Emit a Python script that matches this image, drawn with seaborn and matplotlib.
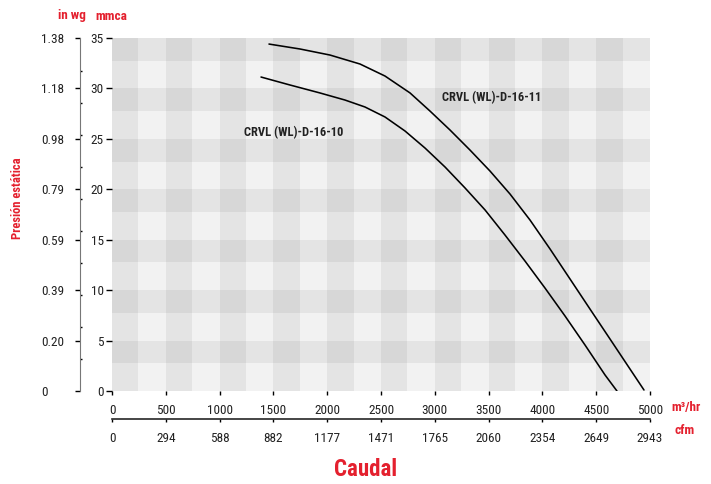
import matplotlib
matplotlib.use('Agg')
import matplotlib.pyplot as plt
import seaborn as sns
from matplotlib.ticker import FixedLocator

# Fan curves (flow in m3/hr, static pressure in mmca)
flow_11 = [1459, 1747, 2026, 2305, 2537, 2770, 2955, 3141, 3327, 3513, 3699, 3885,
           4071, 4257, 4442, 4628, 4814, 4944]
pres_11 = [34.40, 33.91, 33.31, 32.42, 31.23, 29.55, 27.76, 25.88, 23.89, 21.81, 19.53, 16.95,
           14.08, 11.10, 8.13, 5.16, 2.18, 0.10]
flow_10 = [1385, 1654, 1933, 2165, 2351, 2537, 2723, 2909, 3095, 3281, 3467, 3652,
           3838, 4024, 4210, 4396, 4582, 4693]
pres_10 = [31.13, 30.34, 29.55, 28.85, 28.16, 27.17, 25.78, 24.09, 22.21, 20.13, 17.95, 15.47,
           12.89, 10.21, 7.44, 4.56, 1.59, 0.0]

mmca_ticks = [0, 5, 10, 15, 20, 25, 30, 35]
inwg_labels = ['0', '0.20', '0.39', '0.59', '0.79', '0.98', '1.18', '1.38']
m3h_ticks = [0, 500, 1000, 1500, 2000, 2500, 3000, 3500, 4000, 4500, 5000]
cfm_labels = ['0', '294', '588', '882', '1177', '1471', '1765', '2060', '2354', '2649', '2943']

RED = '#e4202e'
W, H = 711, 484

sns.set_style('white')
plt.rcParams['font.family'] = ['Roboto Condensed', 'Roboto', 'DejaVu Sans']
plt.rcParams['font.size'] = 9.5


def fx(px):
    return px / W


def fy(py):
    return 1 - py / H


fig = plt.figure(figsize=(W / 100, H / 100), dpi=100)
ax = fig.add_axes([fx(112), fy(391), 538 / W, 353 / H])

# plaid background
ax.set_facecolor('#f2f2f2')
for y0 in mmca_ticks[:-1]:
    ax.axhspan(y0 + 2.75, y0 + 5, color='black', alpha=0.055, lw=0, zorder=0)
for x0 in m3h_ticks[:-1]:
    ax.axvspan(x0, x0 + 245, color='black', alpha=0.055, lw=0, zorder=0)

line_kw = dict(color='black', lw=1.15, estimator=None, sort=False, solid_joinstyle='round')
sns.lineplot(x=flow_11, y=pres_11, ax=ax, **line_kw)
sns.lineplot(x=flow_10, y=pres_10, ax=ax, **line_kw)

ax.text(3070, 29.1, 'CRVL (WL)-D-16-11', fontweight='bold', fontsize=9, va='center', color='#222222')
ax.text(1227, 25.6, 'CRVL (WL)-D-16-10', fontweight='bold', fontsize=9, va='center', color='#222222')

ax.set_xlim(0, 5000)
ax.set_ylim(0, 35)
for s in ax.spines.values():
    s.set_visible(False)
ax.set_yticks(mmca_ticks)
ax.set_yticklabels([str(t) for t in mmca_ticks])
ax.set_xticks(m3h_ticks)
ax.set_xticklabels([str(t) for t in m3h_ticks])
ax.tick_params(axis='y', left=True, length=4.5, width=1, pad=1.5, colors='black', labelcolor='#222222')
ax.tick_params(axis='x', bottom=True, length=3, width=1, pad=6, colors='black', labelcolor='#222222')
ax.set_xlabel('')
ax.set_ylabel('')

# in wg axis on the far left
ax2 = ax.twinx()
ax2.set_ylim(0, 35)
for k, s in ax2.spines.items():
    s.set_visible(k == 'left')
ax2.spines['left'].set_position(('axes', -32 / 538))
ax2.spines['left'].set_color('#777777')
ax2.yaxis.set_ticks_position('left')
ax2.set_yticks(mmca_ticks)
ax2.set_yticklabels(inwg_labels)
ax2.yaxis.set_minor_locator(FixedLocator([k * 3.175 for k in range(1, 11)]))
ax2.tick_params(axis='y', which='major', length=3.6, width=1, pad=24.5, colors='black', labelcolor='#222222')
ax2.tick_params(axis='y', which='minor', direction='in', length=1.5, width=1, colors='black')
for lbl in ax2.get_yticklabels():
    lbl.set_horizontalalignment('left')

# cfm axis below
ax3 = ax.twiny()
ax3.set_xlim(0, 5000)
for k, s in ax3.spines.items():
    s.set_visible(k == 'bottom')
ax3.spines['bottom'].set_position(('outward', 20))
ax3.spines['bottom'].set_linewidth(1.2)
ax3.xaxis.set_ticks_position('bottom')
ax3.set_xticks(m3h_ticks)
ax3.set_xticklabels(cfm_labels)
ax3.tick_params(axis='x', length=2.5, width=1, pad=7, colors='black', labelcolor='#222222')

# axis titles and units
fig.text(fx(72), fy(16), 'in wg', color=RED, fontweight='bold', ha='center', va='center', fontsize=9.5)
fig.text(fx(111), fy(16), 'mmca', color=RED, fontweight='bold', ha='center', va='center', fontsize=9.5)
fig.text(fx(18), fy(198), 'Presión estática', color=RED, fontweight='bold', rotation=90,
         ha='center', va='center', fontsize=9)
fig.text(fx(686), fy(408), 'm³/hr', color=RED, fontweight='bold', ha='center', va='center', fontsize=9.5)
fig.text(fx(685), fy(431), 'cfm', color=RED, fontweight='bold', ha='center', va='center', fontsize=9.5)
fig.text(fx(366), fy(470), 'Caudal', color=RED, fontweight='bold', ha='center', va='center', fontsize=16.5)

fig.savefig('out.png', dpi=100)
